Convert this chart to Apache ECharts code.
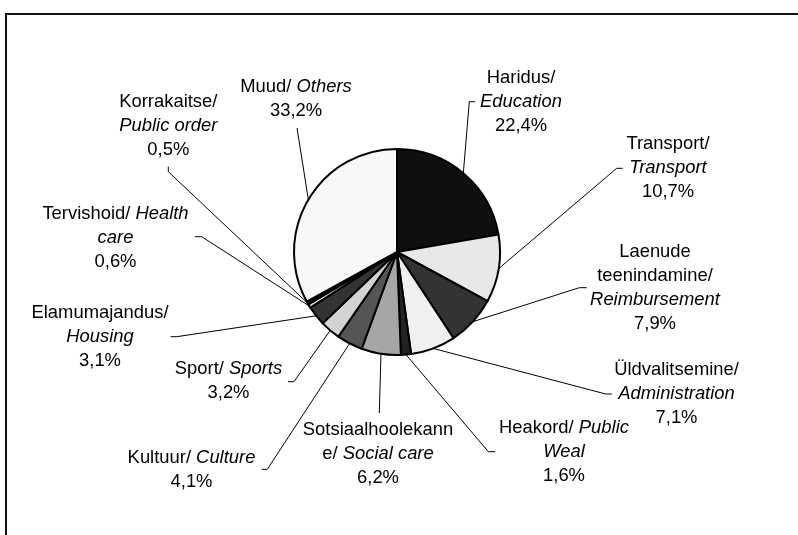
<!DOCTYPE html>
<html>
<head>
<meta charset="utf-8">
<script src="https://cdn.jsdelivr.net/npm/echarts@6/dist/echarts.min.js"></script>
<style>
  html, body { margin: 0; padding: 0; background: #fff; }
  #chart { width: 798px; height: 535px; }
</style>
</head>
<body>
<div id="chart"></div>
<script>
// ---- data ----
const categories = ['Haridus', 'Transport', 'Laenude teenindamine', 'Üldvalitsemine', 'Heakord', 'Sotsiaalhoolekanne', 'Kultuur', 'Sport', 'Elamumajandus', 'Tervishoid', 'Korrakaitse', 'Muud'];
const categoriesEn = ['Education', 'Transport', 'Reimbursement', 'Administration', 'Public Weal', 'Social care', 'Culture', 'Sports', 'Housing', 'Health care', 'Public order', 'Others'];
const values = [22.4, 10.7, 7.9, 7.1, 1.6, 6.2, 4.1, 3.2, 3.1, 0.6, 0.5, 33.2];

// ---- styles / layout ----
const sliceColors = ['#0f0f0f', '#e8e8e8', '#333333', '#f0f0f0', '#222222', '#a6a6a6', '#555555', '#d3d3d3', '#333333', '#e0e0e0', '#111111', '#f8f8f8'];
const wrapStyle = ['stack', 'stack', 'wordsEt', 'stack', 'splitEn', 'charEt', 'inline', 'inline', 'stack', 'splitEn', 'stack', 'inline'];
const labelPos = [
  { x: 521, y: 101.7, p1: [469.3, 101.7], p2: [475, 101.7] },
  { x: 668, y: 168.3, p1: [616.7, 168.3], p2: [622.7, 168.3] },
  { x: 655, y: 288.3, p1: [579.3, 287.7], p2: [586.7, 287.7] },
  { x: 676.5, y: 393.8, p1: [605.7, 394], p2: [611.7, 394] },
  { x: 564, y: 452, p1: [488.3, 451.7], p2: [495, 451.7] },
  { x: 378, y: 453.5, p1: [379.3, 413], p2: [379.3, 413] },
  { x: 191.5, y: 469.5, p1: [267.3, 469.3], p2: [261.7, 469.3] },
  { x: 228.5, y: 381.3, p1: [294, 381.7], p2: [288, 381.7] },
  { x: 100, y: 336.7, p1: [176.7, 336.7], p2: [170.7, 336.7] },
  { x: 115.5, y: 237.5, p1: [201.7, 236.7], p2: [195, 236.7] },
  { x: 168.3, y: 125.7, p1: [168.3, 171.7], p2: [168.3, 166.7] },
  { x: 296, y: 98.7, p1: [297, 128], p2: [297, 128] }
];

function fmtVal(v) { return v.toFixed(1).replace('.', ',') + '%'; }

function labelText(i) {
  const et = categories[i], en = categoriesEn[i], v = '{n|' + fmtVal(values[i]) + '}';
  switch (wrapStyle[i]) {
    case 'stack': return '{n|' + et + '/}\n{i|' + en + '}\n' + v;
    case 'inline': return '{n|' + et + '/ }{i|' + en + '}\n' + v;
    case 'splitEn': {
      const w = en.split(' ');
      return '{n|' + et + '/ }{i|' + w[0] + '}\n{i|' + w.slice(1).join(' ') + '}\n' + v;
    }
    case 'wordsEt': {
      const w = et.split(' ');
      return w.slice(0, -1).map(s => '{n|' + s + '}').join('\n') + '\n{n|' + w[w.length - 1] + '/}\n{i|' + en + '}\n' + v;
    }
    case 'charEt': {
      const full = et + '/ ';
      return '{n|' + full.slice(0, 17) + '}\n{n|' + full.slice(17) + '}{i|' + en + '}\n' + v;
    }
  }
  return et;
}

const chart = echarts.init(document.getElementById('chart'), null, { renderer: 'canvas' });
const font = '"Liberation Sans", Arial, Helvetica, sans-serif';
const fs = 18.4;

chart.setOption({
  backgroundColor: '#ffffff',
  animation: false,
  graphic: [{
    type: 'rect',
    shape: { x: 6, y: 14, width: 900, height: 700 },
    style: { fill: 'none', stroke: '#111', lineWidth: 2 },
    silent: true
  }],
  series: [{
    type: 'pie',
    center: [397, 252],
    radius: 103,
    startAngle: 90,
    clockwise: true,
    avoidLabelOverlap: false,
    silent: true,
    emphasis: { disabled: true },
    data: values.map((v, i) => ({
      name: categories[i],
      value: v,
      itemStyle: { color: sliceColors[i] }
    })),
    itemStyle: { borderColor: '#000', borderWidth: 2 },
    label: {
      show: true,
      position: 'outside',
      formatter: p => labelText(p.dataIndex),
      color: '#000',
      fontFamily: font,
      fontSize: fs,
      lineHeight: 24,
      rich: {
        n: { fontFamily: font, fontSize: fs, lineHeight: 24, color: '#000' },
        i: { fontFamily: font, fontSize: fs, lineHeight: 24, color: '#000', fontStyle: 'italic' }
      }
    },
    labelLine: {
      show: true,
      length: 10,
      length2: 10,
      smooth: false,
      lineStyle: { color: '#000', width: 1 }
    },
    labelLayout: function (params) {
      const L = labelPos[params.dataIndex];
      const pts = params.labelLinePoints;
      const start = pts && pts[0] ? [pts[0][0], pts[0][1]] : L.p1;
      return {
        x: L.x,
        y: L.y,
        align: 'center',
        verticalAlign: 'middle',
        labelLinePoints: [start, L.p1.slice(), L.p2.slice()]
      };
    }
  }]
});
</script>
</body>
</html>
